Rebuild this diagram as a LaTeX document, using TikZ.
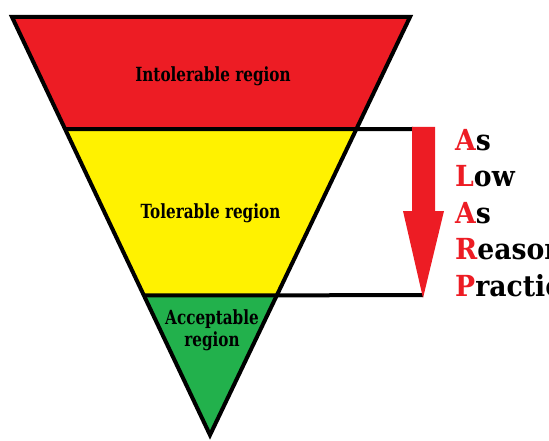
\documentclass[tikz,border=0pt]{standalone}
\usepackage{fontspec}
\newfontfamily\regionfont{DejaVu Serif}[FakeStretch=0.78]
\newfontfamily\alarpfont{DejaVu Serif}[FakeStretch=0.92]
\usepackage{xcolor}
\usetikzlibrary{calc}
\definecolor{hazred}{HTML}{ED1C24}
\definecolor{hazyellow}{HTML}{FFF200}
\definecolor{hazgreen}{HTML}{22B14C}

\begin{document}
\begin{tikzpicture}[x=1pt, y=-1pt,
  border/.style={line width=4pt, black},
  region/.style={font=\regionfont\fontsize{19.5}{22}\selectfont\bfseries, align=center, inner sep=0pt},
  alarp/.style={font=\alarpfont\fontsize{29}{36}\selectfont\bfseries, anchor=base west, inner sep=0pt}]
\clip (0,0) rectangle (549,441);

% corners of the funnel
\coordinate (tl) at (12,17);
\coordinate (tr) at (410,17);
\coordinate (apex) at (210,435);
% ends of the two region borders
\coordinate (ul) at ($(tl)!0.268!(apex)$);
\coordinate (ur) at ($(tr)!0.268!(apex)$);
\coordinate (ll) at ($(tl)!0.666!(apex)$);
\coordinate (lr) at ($(tr)!0.666!(apex)$);
% ends of the lines to the arrow
\coordinate (shaft) at (413,129);
\coordinate (tip) at (423,295);

\fill[hazred] (tl) -- (tr) -- (ur) -- (ul) -- cycle;
\fill[hazyellow] (ul) -- (ur) -- (lr) -- (ll) -- cycle;
\fill[hazgreen] (ll) -- (lr) -- (apex) -- cycle;
\draw[border] (tl) -- (tr) -- (apex) -- cycle;
\draw[border] (ul) -- (ur) -- (shaft);
\draw[border] (ll) -- (lr) -- (tip);

% the ALARP arrow
\fill[hazred] (412,127) -- (435,127) -- (435,211) -- (444,211) -- (423,298) -- (403,211) -- (412,211) -- cycle;

\node[region, anchor=base] (intol) at (213,82) {Intolerable region};
\node[region, anchor=base] (tol) at (210.5,218) {Tolerable region};
\node[region] (accept) at (212,330) {Acceptable\\region};

\node[alarp] (as1) at (455,150) {\textcolor{hazred}{A}s};
\node[alarp] (low) at (455,186.5) {\textcolor{hazred}{L}ow};
\node[alarp] (as2) at (455,223) {\textcolor{hazred}{A}s};
\node[alarp] (reas) at (455,259.5) {\textcolor{hazred}{R}easonably};
\node[alarp] (pract) at (455,296) {\textcolor{hazred}{P}racticable};
\end{tikzpicture}
\end{document}
